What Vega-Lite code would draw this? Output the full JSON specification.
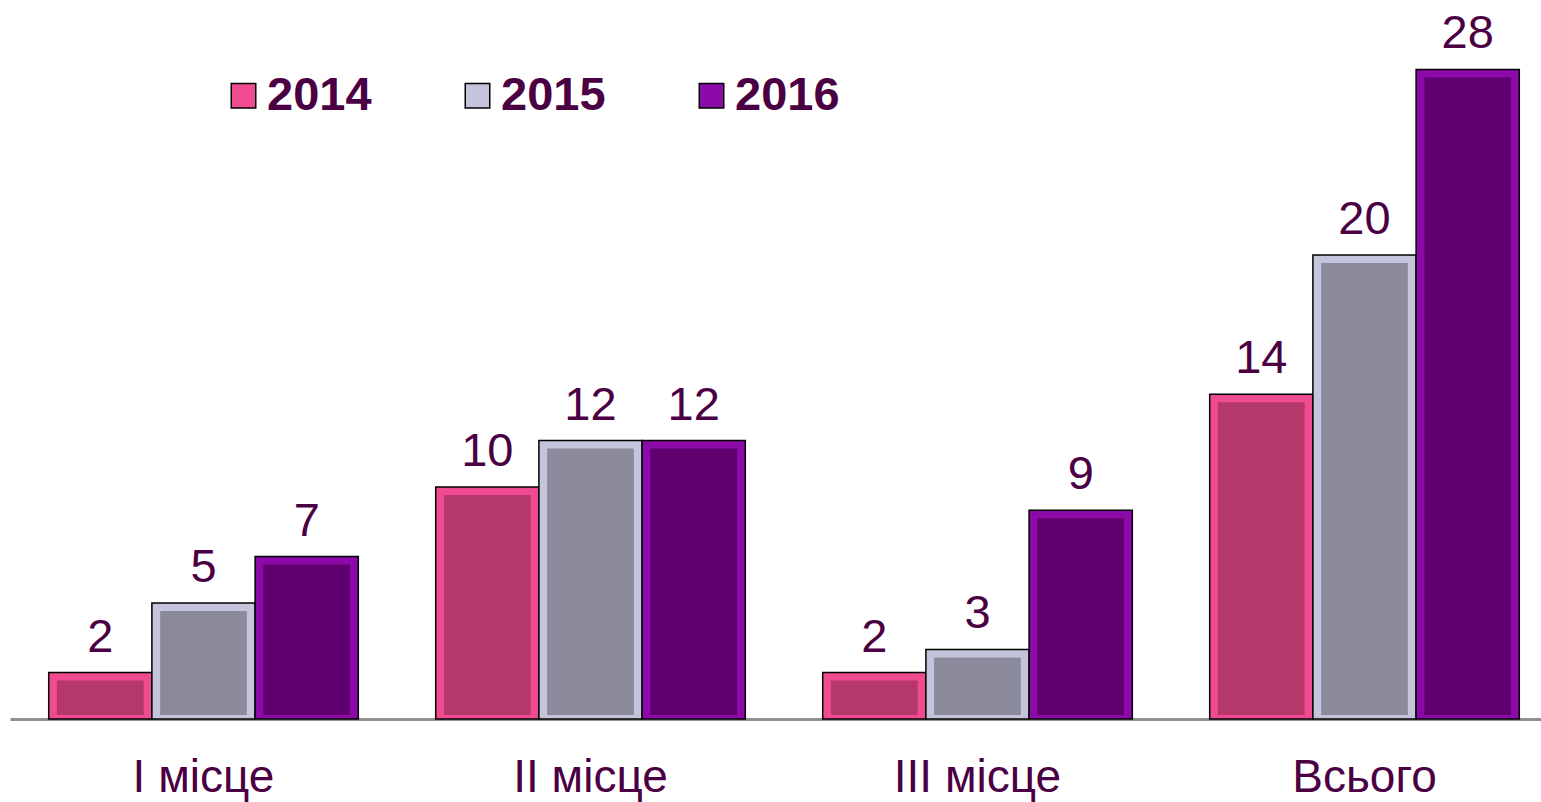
{
  "$schema": "https://vega.github.io/schema/vega-lite/v6.json",
  "width": 1548,
  "height": 696,
  "padding": {"left": 10, "top": 23, "right": 0, "bottom": 83},
  "autosize": {"type": "none"},
  "background": "white",
  "data": {"values": [
    {"cat": "I місце", "year": "2014", "value": 2},
    {"cat": "I місце", "year": "2015", "value": 5},
    {"cat": "I місце", "year": "2016", "value": 7},
    {"cat": "II місце", "year": "2014", "value": 10},
    {"cat": "II місце", "year": "2015", "value": 12},
    {"cat": "II місце", "year": "2016", "value": 12},
    {"cat": "III місце", "year": "2014", "value": 2},
    {"cat": "III місце", "year": "2015", "value": 3},
    {"cat": "III місце", "year": "2016", "value": 9},
    {"cat": "Всього", "year": "2014", "value": 14},
    {"cat": "Всього", "year": "2015", "value": 20},
    {"cat": "Всього", "year": "2016", "value": 28}
  ]},
  "encoding": {
    "x": {"field": "cat", "type": "nominal", "sort": null,
      "scale": {"paddingInner": 0.2, "paddingOuter": 0.1},
      "axis": {"title": null, "ticks": false, "domainColor": "#909090", "domainWidth": 3,
        "labelAngle": 0, "labelFont": "Liberation Sans", "labelFontSize": 46,
        "labelColor": "#4a0042", "labelPadding": 36, "grid": false}},
    "y": {"field": "value", "type": "quantitative", "scale": {"domain": [0, 30]}, "axis": null}
  },
  "layer": [
    {
      "mark": {"type": "bar", "stroke": "#000000", "strokeWidth": 1.5},
      "encoding": {
        "xOffset": {"field": "year", "type": "nominal", "scale": {"paddingInner": 0, "paddingOuter": 0}},
        "color": {"field": "year", "type": "nominal",
          "scale": {"domain": ["2014", "2015", "2016"], "range": ["#f04a90", "#c4c4dc", "#8c0aa8"]},
          "legend": {"title": null, "orient": "none", "legendX": 210, "legendY": 49,
            "direction": "horizontal", "symbolType": "square", "symbolSize": 600,
            "symbolStrokeColor": "#000000", "symbolStrokeWidth": 1.5, "symbolOpacity": 1,
            "labelFont": "Liberation Sans", "labelFontSize": 47, "labelFontWeight": "bold",
            "labelColor": "#4a0042", "labelOffset": 0, "columnPadding": 82, "symbolOffset": 0}}
      }
    },
    {
      "mark": {"type": "bar", "yOffset": 8, "y2Offset": -4},
      "encoding": {
        "xOffset": {"field": "year", "type": "nominal", "scale": {"paddingInner": 0.16, "paddingOuter": 0.08}},
        "y2": {"datum": 0},
        "color": {"field": "year", "type": "nominal",
          "scale": {"domain": ["2014", "2015", "2016"], "range": ["#b5386b", "#8b8a9b", "#60006e"]},
          "legend": null}
      }
    },
    {
      "mark": {"type": "text", "baseline": "alphabetic", "align": "center", "dy": -21, "font": "Liberation Sans", "fontSize": 47, "color": "#4a0042"},
      "encoding": {
        "xOffset": {"field": "year", "type": "nominal", "scale": {"type": "point", "padding": 0.5}},
        "text": {"field": "value", "type": "quantitative"}}
    }
  ],
  "resolve": {"scale": {"color": "independent", "xOffset": "independent"}},
  "config": {"view": {"stroke": null}}
}
